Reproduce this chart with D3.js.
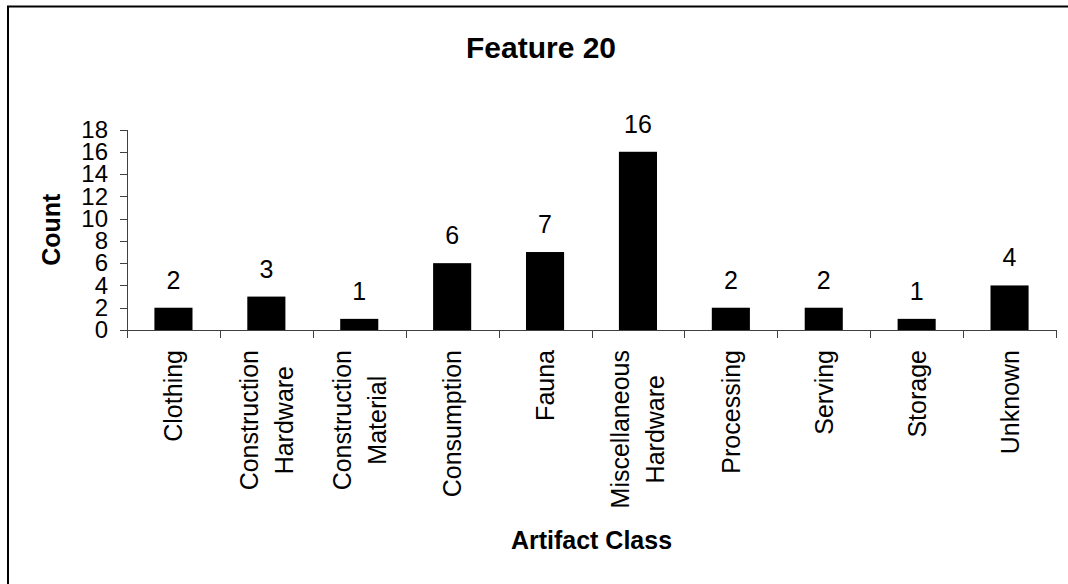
<!DOCTYPE html>
<html>
<head>
	<meta charset='utf-8'>
	<title>Feature 20</title>
	<style>
		html, body {
			margin: 0;
			overflow: hidden;
			background: #fff;
		}
		svg {
			display: block;
		}
		text {
			font-family: Arial, 'Liberation Sans', sans-serif;
			fill: #000;
		}
		.axis path, .axis line {
			stroke: #404040;
			stroke-width: 1px;
			shape-rendering: crispEdges;
		}
		.axis text {
			font-size: 24px;
		}
		.bar {
			fill: #000;
		}
		.value {
			font-size: 25px;
		}
		.cat {
			font-size: 25px;
		}
		.title {
			font-size: 30px;
			font-weight: bold;
		}
		.axis-title {
			font-size: 25px;
			font-weight: bold;
		}
	</style>
</head>
<body>
<script src='https://d3js.org/d3.v7.min.js'></script>
<script>
	'use strict';

	// данные
	const categories = ['Clothing', 'Construction Hardware', 'Construction Material', 'Consumption',
		'Fauna', 'Miscellaneous Hardware', 'Processing', 'Serving', 'Storage', 'Unknown'];
	const categoryLines = [
		['Clothing'],
		['Construction', 'Hardware'],
		['Construction', 'Material'],
		['Consumption'],
		['Fauna'],
		['Miscellaneous', 'Hardware'],
		['Processing'],
		['Serving'],
		['Storage'],
		['Unknown']
	];
	const counts = [2, 3, 1, 6, 7, 16, 2, 2, 1, 4];
	const yTicks = [0, 2, 4, 6, 8, 10, 12, 14, 16, 18];

	const width = 1068;
	const height = 584;
	const plot = {left: 127, right: 1056, top: 129.5, bottom: 330};

	const svg = d3.select('body').append('svg')
		.attr('width', width)
		.attr('height', height);

	// рамка (правый и нижний край за пределами картинки)
	svg.append('rect')
		.attr('x', 8)
		.attr('y', 6.5)
		.attr('width', width + 20)
		.attr('height', height + 20)
		.attr('fill', 'none')
		.attr('stroke', '#000')
		.attr('stroke-width', 2);

	const xScale = d3.scaleBand()
		.domain(categories)
		.range([plot.left, plot.right]);

	const xEdges = d3.scaleLinear()
		.domain([0, categories.length])
		.range([plot.left, plot.right]);

	const yScale = d3.scaleLinear()
		.domain([0, 18])
		.range([plot.bottom, plot.top]);

	// ось Y
	svg.append('g')
		.attr('class', 'axis axis__y')
		.attr('transform', 'translate(' + plot.left + ',0)')
		.call(d3.axisLeft(yScale)
			.tickValues(yTicks)
			.tickSize(7)
			.tickSizeOuter(0)
			.tickPadding(12)
		);

	// бары
	const barWidth = xScale.bandwidth() * 0.41;
	const data = categories.map(function(c, i) {return {cat: c, value: counts[i], lines: categoryLines[i]};});

	svg.selectAll('.bar')
		.data(data)
		.enter()
		.append('rect')
		.attr('class', 'bar')
		.attr('x', function(d) {return xScale(d.cat) + (xScale.bandwidth() - barWidth) / 2;})
		.attr('y', function(d) {return yScale(d.value);})
		.attr('width', barWidth)
		.attr('height', function(d) {return yScale(0) - yScale(d.value);});

	// ось X, засечки между категориями
	svg.append('g')
		.attr('class', 'axis axis__x')
		.attr('transform', 'translate(0,' + plot.bottom + ')')
		.call(d3.axisBottom(xEdges)
			.ticks(categories.length)
			.tickSize(8)
			.tickSizeOuter(0)
			.tickFormat('')
		);

	// подписи значений
	svg.selectAll('.value')
		.data(data)
		.enter()
		.append('text')
		.attr('class', 'value')
		.attr('text-anchor', 'middle')
		.attr('x', function(d) {return xScale(d.cat) + xScale.bandwidth() / 2;})
		.attr('y', function(d) {return yScale(d.value) - 19;})
		.text(function(d) {return d.value;});

	// подписи категорий, повернутые
	const lineStep = 35;
	const cats = svg.selectAll('.cat')
		.data(data)
		.enter()
		.append('g')
		.attr('class', 'cat')
		.attr('transform', function(d) {
			return 'translate(' + (xScale(d.cat) + xScale.bandwidth() / 2) + ',350) rotate(-90)';
		});

	cats.each(function(d) {
		const g = d3.select(this);
		const n = d.lines.length;
		const texts = g.selectAll('text')
			.data(d.lines)
			.enter()
			.append('text')
			.attr('text-anchor', 'middle')
			.attr('y', function(l, i) {return 9 + (i - (n - 1) / 2) * lineStep;})
			.text(function(l) {return l;});
		let maxW = 0;
		texts.each(function() {maxW = Math.max(maxW, this.getComputedTextLength());});
		texts.attr('x', -maxW / 2);
	});

	// заголовки
	svg.append('text')
		.attr('class', 'title')
		.attr('text-anchor', 'middle')
		.attr('x', 541)
		.attr('y', 58)
		.text('Feature 20');

	svg.append('text')
		.attr('class', 'axis-title')
		.attr('text-anchor', 'middle')
		.attr('x', (plot.left + plot.right) / 2)
		.attr('y', 549)
		.text('Artifact Class');

	svg.append('text')
		.attr('class', 'axis-title')
		.attr('text-anchor', 'middle')
		.attr('transform', 'translate(60,' + (plot.top + plot.bottom) / 2 + ') rotate(-90)')
		.text('Count');
</script>
</body>
</html>
